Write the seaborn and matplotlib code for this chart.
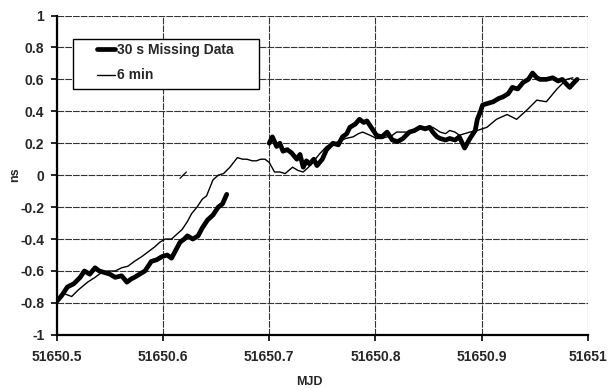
import matplotlib
matplotlib.use('Agg')
import matplotlib.pyplot as plt
from matplotlib.patches import Rectangle
from matplotlib.ticker import FuncFormatter, MultipleLocator
import seaborn as sns

# 30 s data with missing chunks
mjd_30s_a = [51650.500, 51650.505, 51650.510, 51650.516, 51650.522, 51650.526, 51650.531,
             51650.536, 51650.540, 51650.545, 51650.550, 51650.555, 51650.561, 51650.566,
             51650.570, 51650.573, 51650.578, 51650.583, 51650.589, 51650.594, 51650.599,
             51650.604, 51650.608, 51650.612, 51650.616, 51650.620, 51650.623, 51650.628,
             51650.633, 51650.637, 51650.642, 51650.647, 51650.652, 51650.656, 51650.658,
             51650.660]
ns_30s_a = [-0.79, -0.75, -0.70, -0.68, -0.64, -0.60, -0.62, -0.58, -0.60, -0.61, -0.62,
            -0.64, -0.63, -0.67, -0.65, -0.64, -0.62, -0.60, -0.54, -0.53, -0.51, -0.50,
            -0.52, -0.47, -0.42, -0.40, -0.38, -0.40, -0.38, -0.33, -0.28, -0.25, -0.20,
            -0.18, -0.15, -0.12]

mjd_30s_b = [51650.700, 51650.703, 51650.707, 51650.710, 51650.713, 51650.717, 51650.721,
             51650.726, 51650.729, 51650.732, 51650.735, 51650.738, 51650.742, 51650.745,
             51650.750, 51650.754, 51650.760, 51650.765, 51650.769, 51650.773, 51650.776,
             51650.781, 51650.785, 51650.789, 51650.792, 51650.797, 51650.801, 51650.806,
             51650.811, 51650.816, 51650.821, 51650.826, 51650.832, 51650.837, 51650.842,
             51650.847, 51650.851, 51650.854, 51650.858, 51650.861, 51650.866, 51650.870,
             51650.875, 51650.879, 51650.884, 51650.889, 51650.894, 51650.896, 51650.899,
             51650.901, 51650.906, 51650.911, 51650.916, 51650.920, 51650.925, 51650.929,
             51650.934, 51650.939, 51650.944, 51650.948, 51650.952, 51650.955, 51650.961,
             51650.967, 51650.972, 51650.976, 51650.980, 51650.983, 51650.987, 51650.990]
ns_30s_b = [0.20, 0.24, 0.18, 0.20, 0.15, 0.16, 0.14, 0.10, 0.13, 0.05, 0.09, 0.07, 0.10,
            0.06, 0.10, 0.16, 0.20, 0.19, 0.24, 0.26, 0.30, 0.32, 0.35, 0.33, 0.34, 0.29,
            0.25, 0.24, 0.27, 0.22, 0.21, 0.23, 0.27, 0.28, 0.30, 0.29, 0.30, 0.27, 0.24,
            0.23, 0.22, 0.23, 0.22, 0.24, 0.17, 0.23, 0.28, 0.35, 0.40, 0.44, 0.45, 0.46,
            0.48, 0.49, 0.51, 0.55, 0.54, 0.58, 0.60, 0.64, 0.61, 0.60, 0.60, 0.61, 0.59,
            0.60, 0.57, 0.55, 0.58, 0.60]

mjd_30s_c = [51650.616, 51650.622]
ns_30s_c = [-0.02, 0.02]

# 6 min averaged data
mjd_6min = [51650.500, 51650.506, 51650.514, 51650.520, 51650.529, 51650.536, 51650.542,
            51650.548, 51650.555, 51650.561, 51650.567, 51650.573, 51650.580, 51650.586,
            51650.592, 51650.597, 51650.602, 51650.608, 51650.613, 51650.618, 51650.623,
            51650.627, 51650.632, 51650.637, 51650.641, 51650.647, 51650.652, 51650.657,
            51650.663, 51650.670, 51650.675, 51650.679, 51650.684, 51650.688, 51650.692,
            51650.696, 51650.700, 51650.705, 51650.710, 51650.715, 51650.722, 51650.727,
            51650.732, 51650.737, 51650.741, 51650.747, 51650.754, 51650.760, 51650.766,
            51650.772, 51650.779, 51650.784, 51650.788, 51650.795, 51650.801, 51650.806,
            51650.811, 51650.816, 51650.820, 51650.826, 51650.832, 51650.838, 51650.845,
            51650.850, 51650.854, 51650.861, 51650.866, 51650.870, 51650.875, 51650.879,
            51650.884, 51650.889, 51650.896, 51650.905, 51650.914, 51650.924, 51650.933,
            51650.943, 51650.952, 51650.961, 51650.971, 51650.980, 51650.986]
ns_6min = [-0.78, -0.74, -0.76, -0.72, -0.67, -0.64, -0.61, -0.60, -0.60, -0.58, -0.57,
           -0.54, -0.51, -0.48, -0.45, -0.42, -0.40, -0.40, -0.37, -0.34, -0.29, -0.24,
           -0.20, -0.15, -0.13, -0.03, 0.00, 0.01, 0.05, 0.11, 0.10, 0.10, 0.09, 0.09,
           0.10, 0.10, 0.08, 0.02, 0.02, 0.01, 0.05, 0.03, 0.02, 0.05, 0.08, 0.13, 0.18,
           0.20, 0.21, 0.23, 0.24, 0.26, 0.27, 0.25, 0.23, 0.23, 0.24, 0.25, 0.27, 0.27,
           0.27, 0.29, 0.30, 0.30, 0.30, 0.27, 0.26, 0.28, 0.27, 0.25, 0.26, 0.27, 0.28,
           0.30, 0.35, 0.38, 0.35, 0.41, 0.47, 0.46, 0.54, 0.60, 0.61]


def main():
    sns.set_style("white")
    plt.rcParams['font.family'] = ['Liberation Sans', 'DejaVu Sans']

    fig = plt.figure(figsize=(6.11, 3.88), dpi=100)
    ax = fig.add_axes([0.093, 0.137, 0.869, 0.823])

    thick = dict(color='black', linewidth=3.4, ax=ax, estimator=None, sort=False)
    sns.lineplot(x=mjd_30s_a, y=ns_30s_a, label='30 s Missing Data', **thick)
    sns.lineplot(x=mjd_30s_b, y=ns_30s_b, **thick)
    sns.lineplot(x=mjd_30s_c, y=ns_30s_c, color='black', linewidth=0.9, ax=ax,
                 estimator=None, sort=False)
    sns.lineplot(x=mjd_6min, y=ns_6min, color='black', linewidth=1.0, ax=ax,
                 estimator=None, sort=False, label='6 min')

    ax.set_xlim(51650.5, 51651.0)
    ax.set_ylim(-1, 1)
    ax.xaxis.set_major_locator(MultipleLocator(0.1))
    ax.yaxis.set_major_locator(MultipleLocator(0.2))
    ax.xaxis.set_major_formatter(FuncFormatter(lambda v, p: f'{v:.6g}'))
    ax.yaxis.set_major_formatter(FuncFormatter(lambda v, p: f'{v:.2g}' if abs(v) > 1e-9 else '0'))

    ax.grid(True, color='#333333', linewidth=0.8, linestyle=(0, (6, 1)))
    for side in ['top', 'right']:
        ax.spines[side].set_visible(False)
    for side in ['left', 'bottom']:
        ax.spines[side].set_color('black')
        ax.spines[side].set_linewidth(1.6)
    ax.tick_params(axis='both', direction='out', length=4, width=1.2, color='black',
                   labelsize=10, left=True, bottom=True)
    ax.tick_params(axis='x', pad=7)
    ax.tick_params(axis='y', pad=5)
    for lab in ax.get_xticklabels() + ax.get_yticklabels():
        lab.set_fontweight('bold')

    ax.set_xlabel('MJD', fontsize=9, fontweight='bold')
    ax.set_ylabel('ns', fontsize=9, fontweight='bold')
    ax.xaxis.set_label_coords(0.475, -0.13)
    ax.yaxis.set_label_coords(-0.068, 0.5)

    # legend box drawn separately so it can be wider than the entries
    ax.add_patch(Rectangle((0.030, 0.770), 0.350, 0.157, transform=ax.transAxes,
                           facecolor='white', edgecolor='black', linewidth=1.0, zorder=5))
    leg = ax.legend(loc='upper left', bbox_to_anchor=(0.075, 0.915), frameon=False,
                    handlelength=1.3, handletextpad=0.2, borderpad=0,
                    labelspacing=0.85, fontsize=10, borderaxespad=0)
    leg.set_zorder(6)
    for t in leg.get_texts():
        t.set_fontweight('bold')
    leg.get_lines()[0].set_linewidth(3.4)

    fig.savefig('out.png', dpi=100)
    plt.close(fig)


if __name__ == "__main__":
    main()
